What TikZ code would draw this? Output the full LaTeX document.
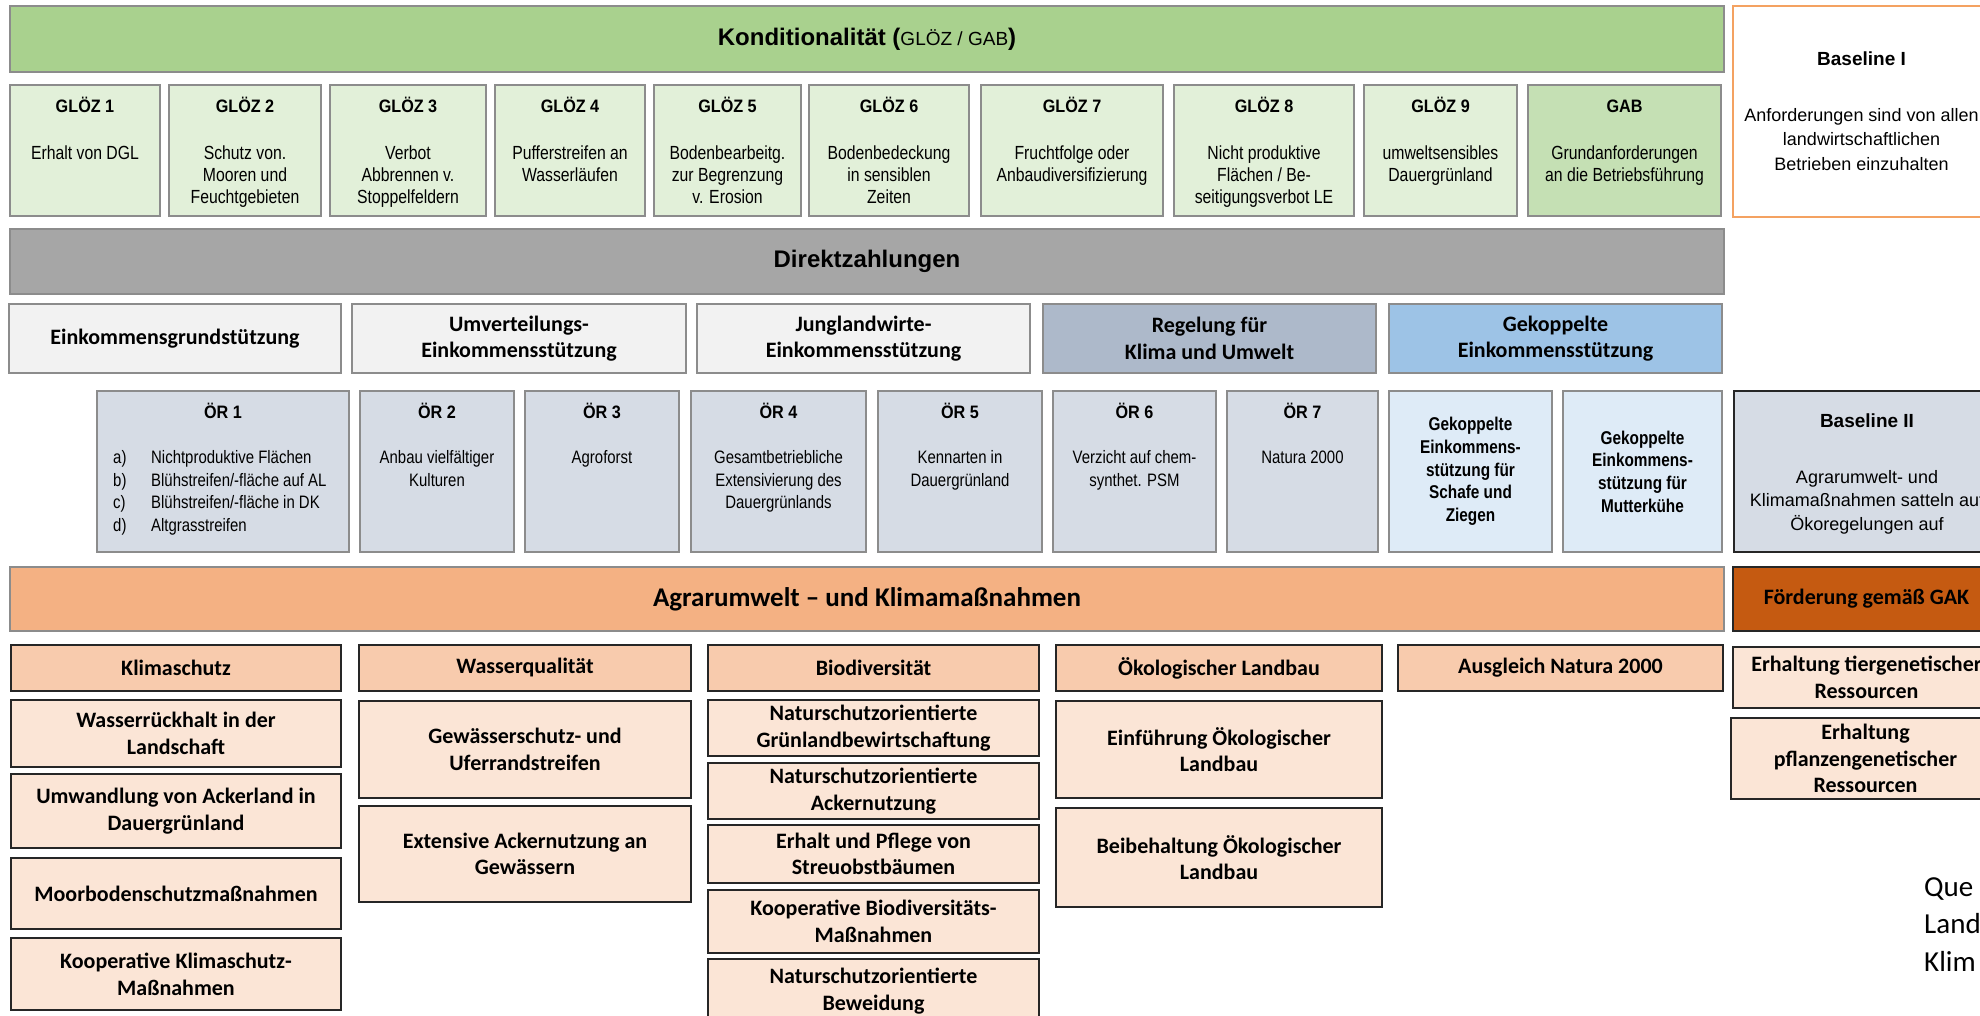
\documentclass[tikz,border=0pt]{standalone}
\usepackage{fontspec}
\setmainfont{Liberation Sans}
\newfontfamily\narf[FakeStretch=0.83]{Liberation Sans}
\newfontfamily\ttlf[FakeStretch=0.9]{Liberation Sans}
\newfontfamily\calf{Carlito}
\definecolor{kgreen}{HTML}{A9D18E}
\definecolor{lgreen}{HTML}{E2F0D9}
\definecolor{mgreen}{HTML}{C5E0B4}
\definecolor{bgray}{HTML}{8C8C8C}
\definecolor{dgray}{HTML}{A6A6A6}
\definecolor{lgray}{HTML}{F2F2F2}
\definecolor{slate}{HTML}{ADB9CA}
\definecolor{lslate}{HTML}{D6DCE5}
\definecolor{sky}{HTML}{9DC3E6}
\definecolor{lsky}{HTML}{DEEBF7}
\definecolor{peach}{HTML}{F4B183}
\definecolor{rust}{HTML}{C55A11}
\definecolor{lpeach}{HTML}{F8CBAD}
\definecolor{vlpeach}{HTML}{FBE5D6}
\definecolor{borange}{HTML}{F4A261}
\definecolor{dark}{HTML}{262626}
\tikzset{
  gb/.style={draw=bgray, line width=2.4pt, inner sep=0pt, outer sep=0pt},
  db/.style={draw=dark, line width=2.8pt, inner sep=0pt, outer sep=0pt},
  cb/.style={font=\calf\bfseries\fontsize{22}{26.7}\selectfont, align=center},
  ttl/.style={font=\ttlf\bfseries\fontsize{18}{21}\selectfont, inner sep=0pt, anchor=base},
  gbody/.style={font=\narf\fontsize{19}{22}\selectfont, inner sep=0pt, anchor=north, align=center},
  obody/.style={font=\narf\fontsize{18}{22.6}\selectfont, inner sep=0pt, anchor=north, align=center},
  gek/.style={font=\narf\bfseries\fontsize{18.5}{22.7}\selectfont, align=center},
}
\newcommand\bx[7]{\node[#6, anchor=north west, minimum width=#4pt, minimum height=#5pt] (#1) at (#2,#3) {#7};}
\newcommand\glz[6]{%
  \bx{#1}{#2}{85}{#3}{131}{gb,fill=#4}{}
  \node[ttl] (#1t) at ([yshift=-28pt]#1.north) {#5};
  \node[gbody] (#1b) at ([yshift=-58.6pt]#1.north) {\strut #6};}
\newcommand\oer[5]{%
  \bx{#1}{#2}{391}{#3}{161}{gb,fill=lslate}{}
  \node[ttl] (#1t) at ([yshift=-27pt]#1.north) {#4};
  \node[obody] (#1b) at ([yshift=-56.7pt]#1.north) {\strut #5};}
\begin{document}
\begin{tikzpicture}[x=1pt,y=-1pt]
\useasboundingbox (0,0) rectangle (1980,1016);
\fill[white] (0,0) rectangle (1980,1016);
\clip (0,0) rectangle (1980,1016);

% ---------- Konditionalitaet ----------
\bx{kond}{10}{6}{1714}{66}{gb,fill=kgreen}{\bfseries\fontsize{24}{28}\selectfont Konditionalität (\mdseries\fontsize{19}{24}\selectfont GLÖZ / GAB\bfseries\fontsize{24}{28}\selectfont)}
\bx{bl1}{1733}{6}{257}{211}{draw=borange, line width=2.5pt, fill=white, inner sep=0pt, outer sep=0pt}{}
\node[anchor=base, inner sep=0pt, font=\bfseries\fontsize{19}{23}\selectfont] (bl1t) at ([yshift=-60pt]bl1.north) {Baseline I};
\node[anchor=north, inner sep=0pt, align=center, font=\fontsize{18}{24.5}\selectfont] (bl1b) at ([yshift=-98pt]bl1.north) {\strut Anforderungen sind von allen\\landwirtschaftlichen\\Betrieben einzuhalten};

\glz{g1}{10}{150}{lgreen}{GLÖZ 1}{Erhalt von DGL}
\glz{g2}{169}{152}{lgreen}{GLÖZ 2}{Schutz von.\\Mooren und\\Feuchtgebieten}
\glz{g3}{330}{156}{lgreen}{GLÖZ 3}{Verbot\\Abbrennen v.\\Stoppelfeldern}
\glz{g4}{495}{150}{lgreen}{GLÖZ 4}{Pufferstreifen an\\Wasserläufen}
\glz{g5}{654}{147}{lgreen}{GLÖZ 5}{Bodenbearbeitg.\\zur Begrenzung\\v. Erosion}
\glz{g6}{809}{160}{lgreen}{GLÖZ 6}{Bodenbedeckung\\in sensiblen\\Zeiten}
\glz{g7}{981}{182}{lgreen}{GLÖZ 7}{Fruchtfolge oder\\Anbaudiversifizierung}
\glz{g8}{1174}{180}{lgreen}{GLÖZ 8}{Nicht produktive\\Flächen / Be-\\seitigungsverbot LE}
\glz{g9}{1364}{153}{lgreen}{GLÖZ 9}{umweltsensibles\\Dauergrünland}
\glz{gab}{1528}{193}{mgreen}{GAB}{Grundanforderungen\\an die Betriebsführung}

% ---------- Direktzahlungen ----------
\bx{dz}{10}{229}{1714}{65}{gb,fill=dgray}{\bfseries\fontsize{24}{28}\selectfont Direktzahlungen}
\bx{ek}{9}{304}{332}{69}{gb,fill=lgray,cb}{Einkommensgrundstützung}
\bx{uv}{352}{304}{334}{69}{gb,fill=lgray,cb}{Umverteilungs-\\Einkommensstützung}
\bx{jl}{697}{304}{333}{69}{gb,fill=lgray,cb}{Junglandwirte-\\Einkommensstützung}
\bx{rk}{1043}{304}{333}{69}{gb,fill=slate,cb}{Regelung für\\Klima und Umwelt}
\bx{ge}{1389}{304}{333}{69}{gb,fill=sky,cb}{Gekoppelte\\Einkommensstützung}

\oer{o1}{97}{252}{ÖR 1}{}
\node[anchor=north west, inner sep=0pt, align=left, font=\narf\fontsize{18}{22.6}\selectfont] (o1l) at ([xshift=16pt,yshift=-56.7pt]o1.north west) {\strut\makebox[38pt][l]{a)}Nichtproduktive Flächen\\\makebox[38pt][l]{b)}Blühstreifen/-fläche auf AL\\\makebox[38pt][l]{c)}Blühstreifen/-fläche in DK\\\makebox[38pt][l]{d)}Altgrasstreifen};
\oer{o2}{360}{154}{ÖR 2}{Anbau vielfältiger\\Kulturen}
\oer{o3}{525}{154}{ÖR 3}{Agroforst}
\oer{o4}{691}{175}{ÖR 4}{Gesamtbetriebliche\\Extensivierung des\\Dauergrünlands}
\oer{o5}{878}{164}{ÖR 5}{Kennarten in\\Dauergrünland}
\oer{o6}{1053}{163}{ÖR 6}{Verzicht auf chem-\\synthet. PSM}
\oer{o7}{1227}{151}{ÖR 7}{Natura 2000}
\bx{gk1}{1389}{391}{163}{161}{gb,fill=lsky,gek}{Gekoppelte\\Einkommens-\\stützung für\\Schafe und\\Ziegen}
\bx{gk2}{1563}{391}{159}{161}{gb,fill=lsky,gek}{Gekoppelte\\Einkommens-\\stützung für\\Mutterkühe}
\bx{bl2}{1734}{391}{266}{161}{db,fill=lslate}{}
\node[anchor=base, inner sep=0pt, font=\bfseries\fontsize{19}{23}\selectfont] (bl2t) at ([yshift=-36pt]bl2.north) {Baseline II};
\node[anchor=north, inner sep=0pt, align=center, font=\fontsize{18}{23.5}\selectfont] (bl2b) at ([yshift=-75.5pt]bl2.north) {\strut Agrarumwelt- und\\Klimamaßnahmen satteln auf\\Ökoregelungen auf};

% ---------- Agrarumwelt ----------
\bx{au}{10}{567}{1714}{64}{gb,fill=peach}{\calf\bfseries\fontsize{27}{32}\selectfont Agrarumwelt – und Klimamaßnahmen}
\bx{gak}{1733}{567}{267}{64}{db,fill=rust,cb}{Förderung gemäß GAK}

\bx{kl}{11}{645}{330}{46}{db,fill=lpeach,cb}{Klimaschutz}
\bx{wq}{359}{645}{332}{46}{db,fill=lpeach,cb}{Wasserqualität}
\bx{bd}{708}{645}{331}{46}{db,fill=lpeach,cb}{Biodiversität}
\bx{ol}{1056}{645}{326}{46}{db,fill=lpeach,cb}{Ökologischer Landbau}
\bx{an}{1398}{645}{325}{46}{db,fill=lpeach,cb}{Ausgleich Natura 2000}
\bx{tg}{1733}{647}{267}{61}{db,fill=vlpeach,cb}{Erhaltung tiergenetischer\\Ressourcen}
\bx{pg}{1731}{718}{269}{81}{db,fill=vlpeach,cb}{Erhaltung\\pflanzengenetischer\\Ressourcen}

\bx{kl1}{11}{700}{330}{67}{db,fill=vlpeach,cb}{Wasserrückhalt in der\\Landschaft}
\bx{kl2}{11}{774}{330}{74}{db,fill=vlpeach,cb}{Umwandlung von Ackerland in\\Dauergrünland}
\bx{kl3}{11}{858}{330}{71}{db,fill=vlpeach,cb}{Moorbodenschutzmaßnahmen}
\bx{kl4}{11}{938}{330}{72}{db,fill=vlpeach,cb}{Kooperative Klimaschutz-\\Maßnahmen}

\bx{wq1}{359}{701}{332}{97}{db,fill=vlpeach,cb}{Gewässerschutz- und\\Uferrandstreifen}
\bx{wq2}{359}{806}{332}{96}{db,fill=vlpeach,cb}{Extensive Ackernutzung an\\Gewässern}

\bx{bd1}{708}{700}{331}{56}{db,fill=vlpeach,cb}{Naturschutzorientierte\\Grünlandbewirtschaftung}
\bx{bd2}{708}{763}{331}{56}{db,fill=vlpeach,cb}{Naturschutzorientierte\\Ackernutzung}
\bx{bd3}{708}{825}{331}{58}{db,fill=vlpeach,cb}{Erhalt und Pflege von\\Streuobstbäumen}
\bx{bd4}{708}{890}{331}{63}{db,fill=vlpeach,cb}{Kooperative Biodiversitäts-\\Maßnahmen}
\bx{bd5}{708}{959}{331}{64}{db,fill=vlpeach,cb}{Naturschutzorientierte\\Beweidung}

\bx{ol1}{1056}{701}{326}{97}{db,fill=vlpeach,cb}{Einführung Ökologischer\\Landbau}
\bx{ol2}{1056}{808}{326}{99}{db,fill=vlpeach,cb}{Beibehaltung Ökologischer\\Landbau}

\node[anchor=north west, inner sep=0pt, align=left, font=\calf\fontsize{29}{37.5}\selectfont] (quelle) at (1924,870) {\strut Que\\Land\\Klim};
\end{tikzpicture}
\end{document}
